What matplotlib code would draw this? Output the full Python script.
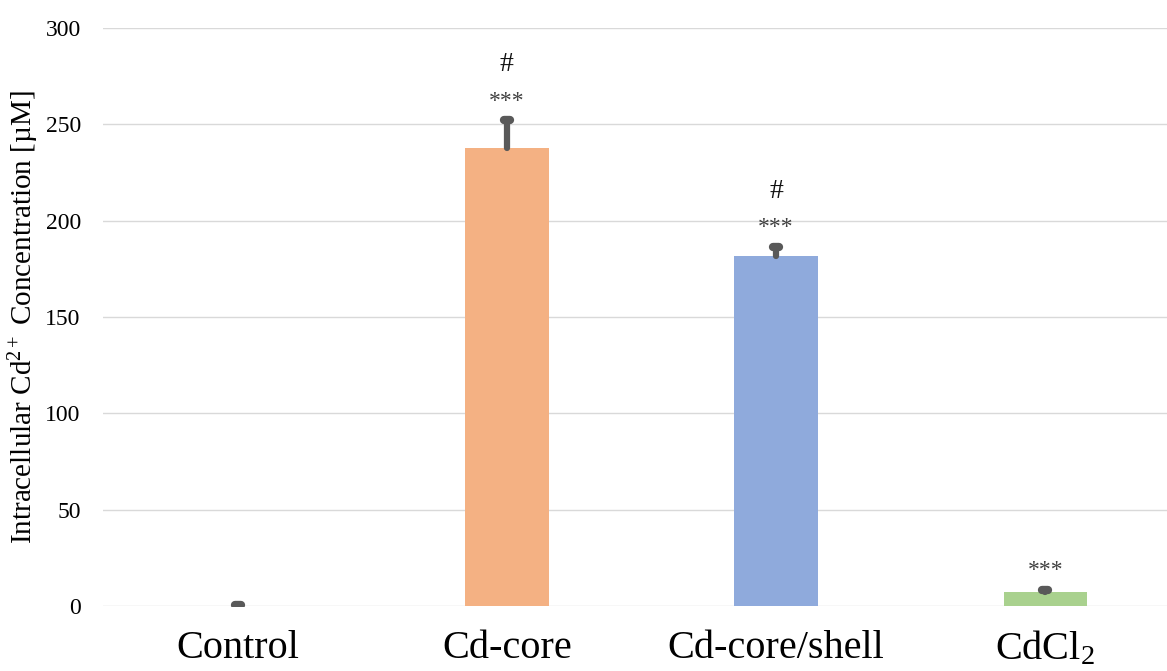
import matplotlib
matplotlib.use("Agg")
import matplotlib.pyplot as plt
from matplotlib.markers import MarkerStyle
import numpy as np

plt.rcParams['font.family'] = ['Liberation Serif', 'DejaVu Serif']
plt.rcParams['mathtext.fontset'] = 'custom'
plt.rcParams['mathtext.rm'] = 'Liberation Serif'
plt.rcParams['mathtext.it'] = 'Liberation Serif:italic'

groups = ['Control', 'Cd-core', 'Cd-core/shell', 'CdCl$_2$']
means = [0.2, 237.5, 181.5, 7.5]
errs = [0.3, 14.5, 5.0, 1.0]
stars = ['', '***', '***', '***']
hashes = ['', '#', '#', '']
colors = ['#F4B183', '#F4B183', '#8FAADC', '#A9D18E']

fig = plt.figure(figsize=(11.67, 6.71), dpi=100)
ax = fig.add_axes([103/1167, 65/671, 1077/1167, 578/671])

x = np.arange(len(groups))
ax.bar(x, means, width=0.31, color=colors, zorder=2)

# upper error bars only, with a rounded cap
cap = MarkerStyle('_', capstyle='round')
for xi, m, e in zip(x, means, errs):
    ax.plot([xi, xi], [m, m + e], color='#595959', lw=4.5,
            solid_capstyle='round', zorder=3)
    ax.plot(xi, m + e, marker=cap, ms=4, mew=6, color='#595959', zorder=3)

for xi, m, e, s, h in zip(x, means, errs, stars, hashes):
    top = m + e
    if s:
        ax.annotate(s, (xi, top), xytext=(0, 14), textcoords='offset points',
                    ha='center', va='center', fontsize=17, color='#404040')
    if h:
        ax.annotate(h, (xi, top), xytext=(0, 40), textcoords='offset points',
                    ha='center', va='center', fontsize=20, color='#111111')

ax.set_xlim(-0.5, 3.5)
ax.set_ylim(0, 300)
ax.set_yticks(np.arange(0, 301, 50))
ax.set_xticks(x)
ax.set_xticklabels(groups, fontsize=29)
ax.tick_params(axis='x', length=0, pad=17)
ax.tick_params(axis='y', length=0, pad=16, labelsize=17)
ax.grid(axis='y', color='#d9d9d9', linewidth=1, zorder=0)
ax.set_axisbelow(True)
for sp in ax.spines.values():
    sp.set_visible(False)

ax.set_ylabel('Intracellular Cd$^{2+}$ Concentration [µM]', fontsize=21)
ax.yaxis.set_label_coords(-62/1077, 0.5)

fig.savefig('out.png', dpi=100)
